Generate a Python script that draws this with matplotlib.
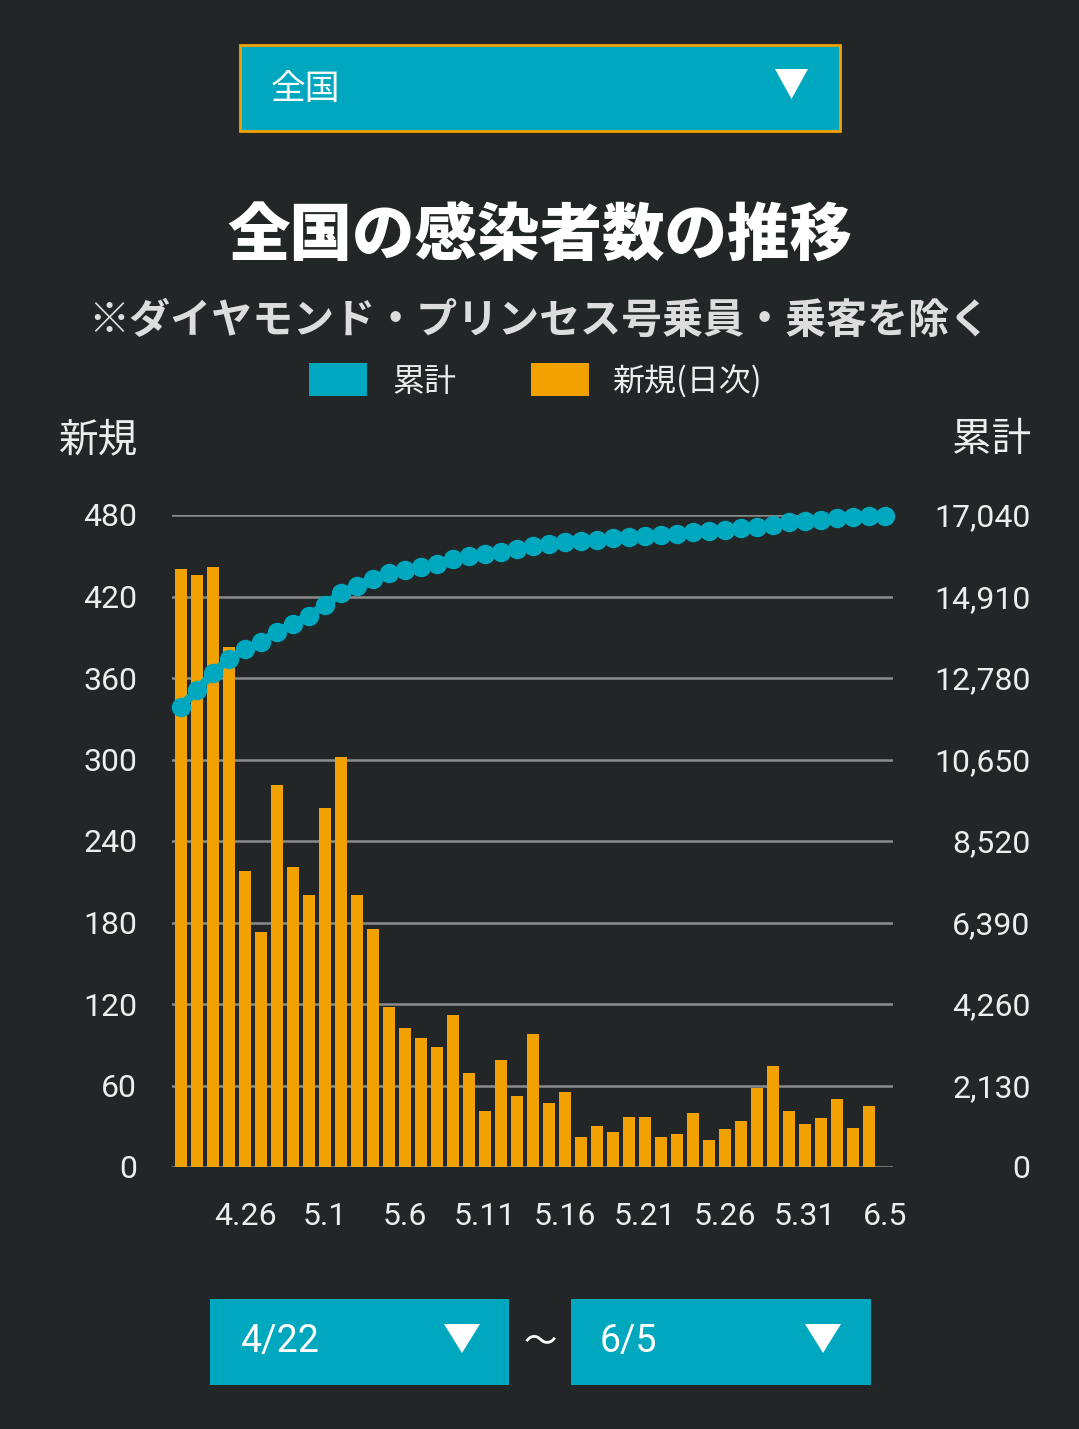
import numpy as np
import matplotlib.pyplot as plt
from matplotlib.patches import Rectangle, Polygon
from matplotlib.ticker import FuncFormatter

W, H = 1079, 1429
BG = "#222626"
TEAL = "#00A8BF"
ORANGE = "#F2A200"
GRID = "#8C8C8C"
TXT = "#EDEDED"

plt.rcParams['font.family'] = ['Roboto', 'Noto Sans CJK JP', 'DejaVu Sans']

# 4/22 - 6/5
days = ["4.22", "4.23", "4.24", "4.25", "4.26", "4.27", "4.28", "4.29", "4.30",
        "5.1", "5.2", "5.3", "5.4", "5.5", "5.6", "5.7", "5.8", "5.9", "5.10",
        "5.11", "5.12", "5.13", "5.14", "5.15", "5.16", "5.17", "5.18", "5.19",
        "5.20", "5.21", "5.22", "5.23", "5.24", "5.25", "5.26", "5.27", "5.28",
        "5.29", "5.30", "5.31", "6.1", "6.2", "6.3", "6.4", "6.5"]
# daily new cases (no bar shown for 6/5)
new_cases = [440, 436, 442, 383, 218, 173, 281, 221, 200, 264,
             302, 200, 175, 118, 102, 95, 88, 112, 69, 41,
             79, 52, 98, 47, 55, 22, 30, 26, 37, 37,
             22, 24, 40, 20, 28, 34, 58, 74, 41, 32,
             36, 50, 29, 45]
cumulative = [12033, 12463, 12905, 13279, 13528, 13721, 13981, 14197, 14412, 14684,
              14990, 15194, 15375, 15522, 15602, 15692, 15771, 15885, 15964, 16009,
              16077, 16145, 16225, 16281, 16338, 16372, 16395, 16429, 16462, 16497,
              16530, 16553, 16587, 16610, 16644, 16689, 16734, 16791, 16848, 16882,
              16916, 16950, 16984, 17006, 17017]
xtick_labels = ["4.26", "5.1", "5.6", "5.11", "5.16", "5.21", "5.26", "5.31", "6.5"]
left_ticks = [0, 60, 120, 180, 240, 300, 360, 420, 480]
right_ticks = [0, 2130, 4260, 6390, 8520, 10650, 12780, 14910, 17040]


def fx(x):
    return x / W


def fy(y):
    return 1 - y / H


def box(x0, y0, x1, y1, edge=None):
    r = Rectangle((fx(x0), fy(y1)), fx(x1 - x0), (y1 - y0) / H, transform=fig.transFigure,
                  facecolor=TEAL, edgecolor=edge if edge else TEAL, lw=2 if edge else 0)
    fig.add_artist(r)


def tri(x0, x1, y0, y1):
    p = Polygon([(fx(x0), fy(y0)), (fx(x1), fy(y0)), (fx((x0 + x1) / 2), fy(y1))],
                closed=True, transform=fig.transFigure, facecolor="white", lw=0)
    fig.add_artist(p)


fig = plt.figure(figsize=(W / 100, H / 100), dpi=100, facecolor=BG)

# top dropdown
box(240, 45, 840, 131, edge=ORANGE)
fig.text(fx(271), fy(89), "全国", color="white", fontsize=25, va="center", ha="left",
         family=['Noto Sans CJK JP'])
tri(775, 808, 69, 99)

fig.text(0.5, fy(236), "全国の感染者数の推移", color="white", fontsize=45, weight=900,
         ha="center", va="center", family=['Noto Sans CJK JP'])
fig.text(0.5, fy(321), "※ダイヤモンド・プリンセス号乗員・乗客を除く", color="#DDDDDD",
         fontsize=29.5, weight="bold", ha="center", va="center", family=['Noto Sans CJK JP'])

# legend
fig.add_artist(Rectangle((fx(309), fy(396)), fx(58), 33 / H, transform=fig.transFigure,
                         facecolor=TEAL, lw=0))
fig.text(fx(392), fy(382), "累計", color=TXT, fontsize=23, va="center", ha="left",
         family=['Noto Sans CJK JP'])
fig.add_artist(Rectangle((fx(531), fy(396)), fx(58), 33 / H, transform=fig.transFigure,
                         facecolor=ORANGE, lw=0))
fig.text(fx(612), fy(382), "新規(日次)", color=TXT, fontsize=23, va="center", ha="left",
         family=['Noto Sans CJK JP'])

fig.text(fx(138), fy(440), "新規", color=TXT, fontsize=28.5, va="center", ha="right",
         family=['Noto Sans CJK JP'])
fig.text(fx(1031), fy(440), "累計", color=TXT, fontsize=28.5, va="center", ha="right",
         family=['Noto Sans CJK JP'])

# chart
ax = fig.add_axes([fx(172), fy(1167), fx(893 - 172), (1167 - 515) / H])
ax.set_facecolor("none")
x_all = np.arange(len(days))
ax.bar(x_all[:len(new_cases)], new_cases, width=0.78, color=ORANGE, zorder=2)
ax.set_xlim(-0.56, 44.5)
ax.set_ylim(0, 480)
ax.set_yticks(left_ticks)
ax.yaxis.grid(True, color=GRID, lw=1.8)
ax.set_axisbelow(True)
ax.set_xticks([days.index(d) for d in xtick_labels])
ax.set_xticklabels(xtick_labels)
ax.tick_params(axis="x", length=0, pad=25, labelsize=23, labelcolor=TXT)
ax.tick_params(axis="y", length=0, pad=25, labelsize=23, labelcolor=TXT)
for s in ax.spines.values():
    s.set_visible(False)

ax2 = ax.twinx()
ax2.plot(x_all, cumulative, color=TEAL, lw=6, marker="o", ms=13, clip_on=False, zorder=3)
ax2.set_ylim(0, 17040)
ax2.set_yticks(right_ticks)
ax2.yaxis.set_major_formatter(FuncFormatter(lambda v, p: f"{int(v):,}"))
ax2.tick_params(axis="y", length=0, pad=99, labelsize=23, labelcolor=TXT)
for lab in ax2.get_yticklabels():
    lab.set_horizontalalignment("right")
for s in ax2.spines.values():
    s.set_visible(False)

# date range selectors
box(210, 1299, 509, 1385)
fig.text(fx(240), fy(1342), "4/22", color="white", fontsize=27, va="center", ha="left")
tri(444, 480, 1324, 1353)
fig.text(fx(540), fy(1342), "〜", color="white", fontsize=24, va="center", ha="center",
         family=['Noto Sans CJK JP'])
box(571, 1299, 871, 1385)
fig.text(fx(600), fy(1342), "6/5", color="white", fontsize=27, va="center", ha="left")
tri(805, 841, 1324, 1353)

fig.savefig("out.png", dpi=100, facecolor=BG)
